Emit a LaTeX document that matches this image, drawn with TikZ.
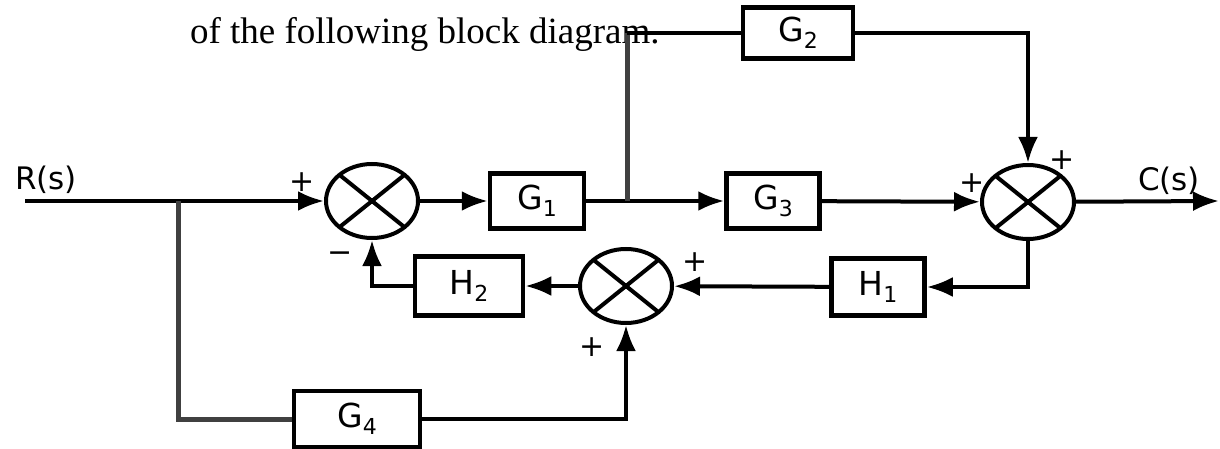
\documentclass[tikz,border=0pt]{standalone}
\usepackage{fontspec}
\setmainfont{Liberation Serif}
\newfontfamily\blockfont{DejaVu Sans}
\usetikzlibrary{arrows.meta,shapes.geometric}
\newcommand{\blab}[2]{#1\raisebox{-7pt}{\fontsize{22}{22}\selectfont #2}}
\begin{document}
\begin{tikzpicture}[x=1pt,y=-1pt,
  line width=4pt,
  >={Latex[length=26pt,width=20pt]},
  blk/.style={draw, line width=4.5pt, rectangle, inner sep=0pt,
    font=\blockfont\fontsize{33}{33}\selectfont},
  sumj/.style={draw, ellipse, line width=4pt, minimum width=92pt,
    minimum height=74pt, inner sep=0pt,
    path picture={\draw[line width=4pt]
      (path picture bounding box.south west)--(path picture bounding box.north east)
      (path picture bounding box.north west)--(path picture bounding box.south east);}},
  sgn/.style={font=\blockfont\fontsize{30}{30}\selectfont, inner sep=0pt},
  sig/.style={font=\blockfont\fontsize{31}{31}\selectfont, inner sep=0pt},
  branch/.style={line width=5pt, black!75}
]
\useasboundingbox (0,0) rectangle (1220,449);

% text line
\node[anchor=base west, inner sep=0pt, font=\fontsize{37}{37}\selectfont] (title) at (188,44) {of the following block diagram.};

% blocks
\node[blk, minimum width=94pt, minimum height=55pt] (G1) at (537,201) {\blab{G}{1}};
\node[blk, minimum width=110pt, minimum height=51pt] (G2) at (798,33) {\blab{G}{2}};
\node[blk, minimum width=93pt, minimum height=55pt] (G3) at (773,201) {\blab{G}{3}};
\node[blk, minimum width=126pt, minimum height=56pt] (G4) at (357,419) {\blab{G}{4}};
\node[blk, minimum width=93pt, minimum height=57pt] (H1) at (878,287) {\blab{H}{1}};
\node[blk, minimum width=108pt, minimum height=59pt] (H2) at (469,286) {\blab{H}{2}};

% summing junctions
\node[sumj] (S1) at (372,201) {};
\node[sumj] (S2) at (1028,202) {};
\node[sumj] (S3) at (626,286) {};

% signals
\node[sig] (R) at (46,180) {R(s)};
\node[sig] (C) at (1169,181) {C(s)};
\coordinate (in) at (25,201);
\coordinate (b1) at (178,201);
\coordinate (b2) at (627,201);
\coordinate (top) at (627,33);
\coordinate (out) at (1219,201);

% connectors
\draw[->] (in) -- (S1);
\draw[->] (S1) -- (G1);
\draw[->] (G1) -- (G3);
\draw[->] (G3) -- (S2);
\draw[->] (S2) -- (out);
\draw[branch] (b2) -- (top);
\draw (top) -- (G2);
\draw[->] (G2) -| (S2);
\draw[->] (S2) |- (H1);
\draw[->] (H1) -- (S3);
\draw[->] (S3) -- (H2);
\draw[->] (H2) -| (S1);
\draw[branch] (b1) |- (G4);
\draw[->] (G4) -| (S3);

% signs
\node[sgn] (p1) at (302,182) {+};
\node[sgn] (m1) at (340,257) {\textminus};
\node[sgn] (p2) at (972,183) {+};
\node[sgn] (p3) at (1062,160) {+};
\node[sgn] (p4) at (695,262) {+};
\node[sgn] (p5) at (592,347) {+};
\end{tikzpicture}
\end{document}
